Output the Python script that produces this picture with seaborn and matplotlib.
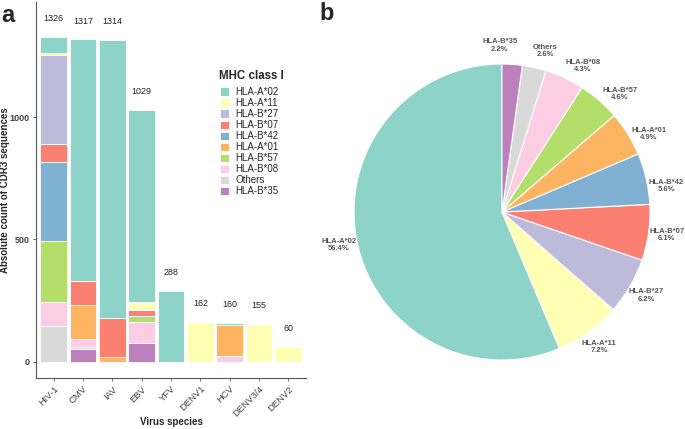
import matplotlib
matplotlib.use("Agg")
import matplotlib.pyplot as plt
from matplotlib.transforms import ScaledTranslation
import numpy as np
import pandas as pd
import seaborn as sns

viruses = ["HIV-1", "CMV", "IAV", "EBV", "YFV", "DENV1", "HCV", "DENV3/4", "DENV2"]
alleles = ["HLA-A*02", "HLA-A*11", "HLA-B*27", "HLA-B*07", "HLA-B*42",
           "HLA-A*01", "HLA-B*57", "HLA-B*08", "Others", "HLA-B*35"]

# CDR3 counts per allele, one value per virus (same order as viruses)
a02 = [65, 985, 1135, 786, 288, 0, 11, 0, 0]
a11 = [8, 0, 0, 31, 0, 162, 0, 155, 60]
b27 = [363, 0, 0, 0, 0, 0, 0, 0, 0]
b07 = [75, 99, 159, 25, 0, 0, 0, 0, 0]
b42 = [323, 0, 0, 0, 0, 0, 0, 0, 0]
a01 = [0, 141, 20, 0, 0, 0, 126, 0, 0]
b57 = [247, 0, 0, 24, 0, 0, 0, 0, 0]
b08 = [100, 33, 0, 88, 0, 0, 23, 0, 0]
others = [145, 5, 0, 0, 0, 0, 0, 0, 0]
b35 = [0, 54, 0, 75, 0, 0, 0, 0, 0]

# pie shares (%) in allele order
pie_share = [56.4, 7.2, 6.2, 6.1, 5.6, 4.9, 4.6, 4.3, 2.6, 2.2]
# small angular nudges (deg) so the top labels don't collide
label_nudge = [0, 0, 0, 0, -4, -4, -4, -4, -2.5, 4.7]

counts = [a02, a11, b27, b07, b42, a01, b57, b08, others, b35]
rows = []
for allele, vals in zip(alleles, counts):
    for virus, v in zip(viruses, vals):
        if v > 0:
            rows.append({"virus": virus, "allele": allele, "count": v})
df = pd.DataFrame(rows)
df["virus"] = pd.Categorical(df["virus"], categories=viruses, ordered=True)

sns.set_theme(style="ticks")
plt.rcParams["font.family"] = ["Liberation Sans", "DejaVu Sans"]
pal = sns.color_palette("Set3", 10)

fig = plt.figure(figsize=(6.85, 4.29), dpi=100)
ax = fig.add_axes([36 / 685, 51 / 429, 270 / 685, 376 / 429])

sns.histplot(data=df, x="virus", weights="count", hue="allele", hue_order=alleles,
             multiple="stack", discrete=True, shrink=0.9, palette=pal, alpha=1,
             edgecolor="white", linewidth=0.6, ax=ax)

totals = df.groupby("virus", observed=False)["count"].sum()
for i, v in enumerate(viruses):
    ax.text(i, totals[v] + 75, str(int(totals[v])), ha="center", va="center",
            fontsize=6.4, color="#222222")

ax.set_xlim(-0.6, len(viruses) - 0.4)
ax.set_ylim(-66, 1470)
ax.set_yticks([0, 500, 1000])
ax.set_xticks(range(len(viruses)))
ax.set_xticklabels(viruses, rotation=45, ha="right", va="top", rotation_mode="anchor",
                   fontsize=6.8, color="#444444")
shift = ScaledTranslation(5 / 100, 4 / 100, fig.dpi_scale_trans)
for t in ax.get_xticklabels():
    t.set_transform(t.get_transform() + shift)
for t in ax.get_yticklabels():
    t.set_fontsize(6.5)
    t.set_fontweight("bold")
    t.set_color("#444444")
ax.tick_params(length=2.5, width=0.6, color="#555555", pad=2)
sns.despine(ax=ax)
for s in ["left", "bottom"]:
    ax.spines[s].set_color("#555555")
    ax.spines[s].set_linewidth(0.8)
ax.set_ylabel("Absolute count of CDR3 sequences", fontsize=7, fontweight="bold")
ax.yaxis.set_label_coords(-0.098, 0.5)
ax.set_xlabel("Virus species", fontsize=7, fontweight="bold")
ax.xaxis.set_label_coords(0.5, -0.104)

sns.move_legend(ax, "upper left", bbox_to_anchor=(215 / 685, 1 - 82 / 429),
                bbox_transform=fig.transFigure, frameon=False, title="",
                fontsize=7, handlelength=0.93, handleheight=0.93, handletextpad=0.69,
                labelspacing=0.107, borderpad=0)
fig.text(219 / 685, 1 - 75.7 / 429, "MHC class I", fontsize=8.3, fontweight="bold",
         ha="left", va="center")

# pie panel
pax = fig.add_axes([354 / 685, 69 / 429, 296 / 685, 296 / 429])
wedges, _ = pax.pie(pie_share, colors=pal, startangle=90, counterclock=True,
                    wedgeprops=dict(edgecolor="white", linewidth=0.8))
for w, a, p, dn in zip(wedges, alleles, pie_share, label_nudge):
    ang = np.deg2rad((w.theta1 + w.theta2) / 2 + dn)
    pax.text(1.125 * np.cos(ang), 1.125 * np.sin(ang), f"{a}\n{p}%",
             ha="center", va="center", multialignment="center", linespacing=1.05,
             fontsize=5.5, fontweight="bold", color="#555555")
pax.set_xlim(-1, 1)
pax.set_ylim(-1, 1)

fig.text(8 / 685, 1 - 15 / 429, "a", fontsize=17, fontweight="bold", ha="center", va="center")
fig.text(327 / 685, 1 - 13 / 429, "b", fontsize=17, fontweight="bold", ha="center", va="center")

fig.savefig("out.png", dpi=100)
